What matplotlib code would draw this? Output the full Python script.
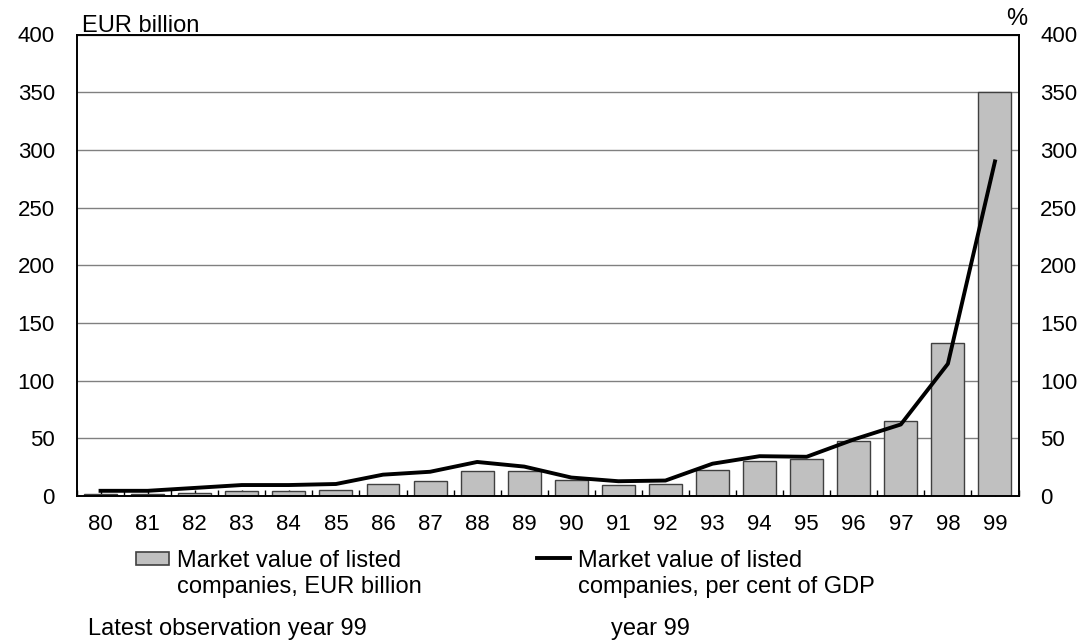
import matplotlib
matplotlib.use("Agg")
import matplotlib.pyplot as plt
import numpy as np
from matplotlib.patches import Rectangle
from matplotlib.lines import Line2D

plt.rcParams['font.family'] = ['Liberation Sans', 'DejaVu Sans']

years = ['80', '81', '82', '83', '84', '85', '86', '87', '88', '89',
         '90', '91', '92', '93', '94', '95', '96', '97', '98', '99']
# market value, EUR billion (bars, left axis)
market_value = [1.5, 2, 2.6, 4.6, 4.6, 5.2, 10.4, 13, 22, 21.4,
                14, 9.3, 10, 22.6, 30.4, 32, 48, 65, 132.5, 350]
# market value, per cent of GDP (line, right axis)
pct_gdp = [4.5, 4.5, 7, 9.5, 9.5, 10.4, 18.5, 21, 29.5, 25.5,
           16, 12.8, 13.4, 28, 34.5, 34, 49, 62, 114.6, 290]

W, H = 1087, 642
fig = plt.figure(figsize=(W / 100, H / 100), dpi=100)
ax = fig.add_axes([77 / W, 1 - 496 / H, (1018.5 - 77) / W, (496 - 34.5) / H])
x = np.arange(len(years))

ax.bar(x, market_value, width=0.7, color='#c0c0c0', edgecolor='#404040', linewidth=1, zorder=2)
ax.set_xlim(-0.5, len(years) - 0.5)
ax.set_ylim(0, 400)
ax.set_yticks(np.arange(0, 401, 50))
ax.grid(axis='y', color='#808080', linewidth=1, zorder=0)
ax.set_axisbelow(True)
ax.set_xticks(x)
ax.set_xticklabels(years)
ax.set_xticks(np.arange(-0.5, len(years), 1), minor=True)
ax.tick_params(axis='x', which='both', direction='in', length=4, width=1, labelsize=16, pad=13)
ax.tick_params(axis='y', length=0, labelsize=16, pad=16)

ax2 = ax.twinx()
ax2.plot(x, pct_gdp, color='black', linewidth=2.8, zorder=3)
ax2.set_ylim(0, 400)
ax2.set_yticks(np.arange(0, 401, 50))
ax2.tick_params(axis='y', length=0, labelsize=16, pad=15.5)

for a in (ax, ax2):
    for s in a.spines.values():
        s.set_color('black')
        s.set_linewidth(1.2)

fs = 17
fig.text(82 / W, 1 - 31.7 / H, 'EUR billion', fontsize=fs, ha='left', va='baseline')
fig.text(1027 / W, 1 - 25 / H, '%', fontsize=fs, ha='right', va='baseline')

# legend, drawn by hand so the keys sit on the first text line
fig.patches.append(Rectangle((136 / W, 1 - 565 / H), 33 / W, 13 / H, transform=fig.transFigure,
                             facecolor='#c0c0c0', edgecolor='#404040', linewidth=1.2))
fig.lines.append(Line2D([537 / W, 570 / W], [1 - 558.3 / H, 1 - 558.3 / H], transform=fig.transFigure,
                        color='black', linewidth=2.8))
fig.text(177 / W, 1 - 566.7 / H, 'Market value of listed', fontsize=fs, ha='left', va='baseline')
fig.text(177 / W, 1 - 593 / H, 'companies, EUR billion', fontsize=fs, ha='left', va='baseline')
fig.text(578 / W, 1 - 566.7 / H, 'Market value of listed', fontsize=fs, ha='left', va='baseline')
fig.text(578 / W, 1 - 593 / H, 'companies, per cent of GDP', fontsize=fs, ha='left', va='baseline')

fig.text(88 / W, 1 - 635.5 / H, 'Latest observation year 99', fontsize=fs, ha='left', va='baseline')
fig.text(611 / W, 1 - 635.5 / H, 'year 99', fontsize=fs, ha='left', va='baseline')

fig.savefig('out.png', dpi=100)
